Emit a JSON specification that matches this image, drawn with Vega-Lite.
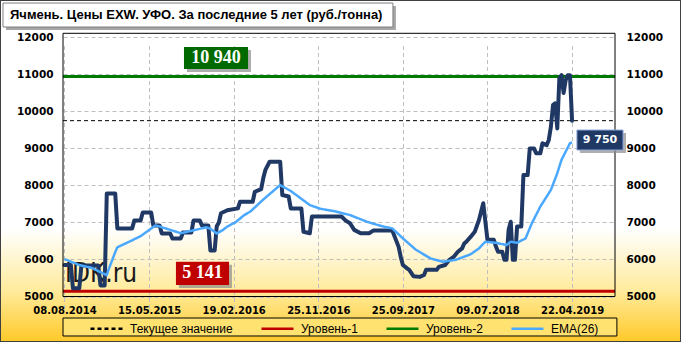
{
  "$schema": "https://vega.github.io/schema/vega-lite/v6.json",
  "width": 681,
  "height": 342,
  "autosize": "none",
  "padding": 0,
  "background": "#FFFFFF",
  "title": {
    "text": "Ячмень. Цены EXW. УФО. За последние 5 лет (руб./тонна)",
    "anchor": "start",
    "frame": "group",
    "offset": -32,
    "baseline": "alphabetic",
    "dx": 10,
    "font": "Liberation Sans",
    "fontSize": 13,
    "fontWeight": "bold",
    "color": "#000000"
  },
  "datasets": {
    "price": [
      {"i": 0, "v": 5850}, {"i": 3, "v": 5850}, {"i": 4, "v": 5220}, {"i": 7, "v": 5220},
      {"i": 8, "v": 5840}, {"i": 16, "v": 5840}, {"i": 17, "v": 5300}, {"i": 19, "v": 5300},
      {"i": 20, "v": 7780}, {"i": 24, "v": 7780}, {"i": 25, "v": 6840}, {"i": 32, "v": 6840},
      {"i": 33, "v": 7050}, {"i": 36, "v": 7050}, {"i": 37, "v": 7270}, {"i": 41, "v": 7270},
      {"i": 42, "v": 6920}, {"i": 45, "v": 6920}, {"i": 46, "v": 6700}, {"i": 50, "v": 6700},
      {"i": 51, "v": 6570}, {"i": 55, "v": 6570}, {"i": 56, "v": 6730}, {"i": 60, "v": 6730},
      {"i": 61, "v": 7050}, {"i": 64, "v": 7050}, {"i": 65, "v": 6920}, {"i": 68, "v": 6920},
      {"i": 69, "v": 6240}, {"i": 71, "v": 6240}, {"i": 72, "v": 6900}, {"i": 73, "v": 7000},
      {"i": 74, "v": 7250}, {"i": 77, "v": 7330}, {"i": 82, "v": 7380}, {"i": 83, "v": 7560},
      {"i": 89, "v": 7560}, {"i": 90, "v": 7830}, {"i": 93, "v": 7900}, {"i": 94, "v": 8200},
      {"i": 95, "v": 8420}, {"i": 97, "v": 8640}, {"i": 102, "v": 8640}, {"i": 103, "v": 7740},
      {"i": 106, "v": 7700}, {"i": 107, "v": 7380}, {"i": 112, "v": 7380}, {"i": 113, "v": 6750},
      {"i": 116, "v": 6710}, {"i": 117, "v": 7160}, {"i": 131, "v": 7160}, {"i": 133, "v": 7050},
      {"i": 135, "v": 6980}, {"i": 137, "v": 6800}, {"i": 140, "v": 6710}, {"i": 144, "v": 6710},
      {"i": 146, "v": 6780}, {"i": 155, "v": 6780}, {"i": 158, "v": 6340}, {"i": 159, "v": 6070},
      {"i": 160, "v": 5850}, {"i": 162, "v": 5760}, {"i": 163, "v": 5720}, {"i": 165, "v": 5550},
      {"i": 168, "v": 5530}, {"i": 170, "v": 5580}, {"i": 171, "v": 5720}, {"i": 176, "v": 5720},
      {"i": 177, "v": 5800}, {"i": 180, "v": 5850}, {"i": 182, "v": 5990}, {"i": 184, "v": 6070},
      {"i": 186, "v": 6210}, {"i": 188, "v": 6300}, {"i": 189, "v": 6430}, {"i": 190, "v": 6480},
      {"i": 192, "v": 6610}, {"i": 194, "v": 6750}, {"i": 196, "v": 7070}, {"i": 198, "v": 7520},
      {"i": 200, "v": 6530}, {"i": 203, "v": 6530}, {"i": 204, "v": 6350}, {"i": 205, "v": 6210},
      {"i": 207, "v": 6210}, {"i": 208, "v": 5990}, {"i": 209, "v": 5990}, {"i": 210, "v": 6800},
      {"i": 211, "v": 7020}, {"i": 212, "v": 5990}, {"i": 213, "v": 5990}, {"i": 214, "v": 6890},
      {"i": 216, "v": 6890}, {"i": 217, "v": 8280}, {"i": 219, "v": 8280}, {"i": 220, "v": 9000},
      {"i": 222, "v": 9000}, {"i": 223, "v": 8870}, {"i": 225, "v": 8870}, {"i": 226, "v": 9140},
      {"i": 228, "v": 9090}, {"i": 229, "v": 9230}, {"i": 230, "v": 9590}, {"i": 231, "v": 10170},
      {"i": 232, "v": 10220}, {"i": 233, "v": 9540}, {"i": 234, "v": 10900}, {"i": 235, "v": 10980},
      {"i": 236, "v": 10500}, {"i": 237, "v": 10850}, {"i": 238, "v": 10980}, {"i": 239, "v": 10980},
      {"i": 240, "v": 9750}
    ],
    "ema": [
      {"i": 0, "v": 6010}, {"i": 4, "v": 5920}, {"i": 7, "v": 5850}, {"i": 13, "v": 5770},
      {"i": 18, "v": 5630}, {"i": 20, "v": 5580}, {"i": 21, "v": 5750}, {"i": 22, "v": 5900},
      {"i": 24, "v": 6200}, {"i": 25, "v": 6330}, {"i": 31, "v": 6490}, {"i": 36, "v": 6630},
      {"i": 43, "v": 6920}, {"i": 45, "v": 6890}, {"i": 50, "v": 6800}, {"i": 55, "v": 6710},
      {"i": 58, "v": 6750}, {"i": 62, "v": 6800}, {"i": 67, "v": 6870}, {"i": 69, "v": 6830},
      {"i": 72, "v": 6700}, {"i": 75, "v": 6800}, {"i": 77, "v": 6890}, {"i": 81, "v": 7010},
      {"i": 85, "v": 7200}, {"i": 88, "v": 7300}, {"i": 94, "v": 7620}, {"i": 102, "v": 8010},
      {"i": 107, "v": 7850}, {"i": 116, "v": 7470}, {"i": 121, "v": 7370}, {"i": 128, "v": 7300},
      {"i": 135, "v": 7200}, {"i": 143, "v": 7020}, {"i": 150, "v": 6900}, {"i": 155, "v": 6840},
      {"i": 160, "v": 6570}, {"i": 166, "v": 6270}, {"i": 173, "v": 6030}, {"i": 179, "v": 5940},
      {"i": 185, "v": 5990}, {"i": 192, "v": 6140}, {"i": 196, "v": 6300}, {"i": 199, "v": 6480},
      {"i": 204, "v": 6450}, {"i": 209, "v": 6390}, {"i": 211, "v": 6480}, {"i": 214, "v": 6450},
      {"i": 218, "v": 6570}, {"i": 221, "v": 6980}, {"i": 225, "v": 7430}, {"i": 230, "v": 7880},
      {"i": 233, "v": 8330}, {"i": 235, "v": 8690}, {"i": 239, "v": 9140}, {"i": 240, "v": 9160}
    ],
    "levels": [
      {"series": "Текущее значение", "v": 9750},
      {"series": "Уровень-1", "v": 5141},
      {"series": "Уровень-2", "v": 10940}
    ],
    "one": [{}]
  },
  "resolve": {"axis": {"x": "independent", "y": "independent"}},
  "layer": [
    {
      "data": {"name": "one"},
      "mark": {"type": "rect", "fill": "#A6A6A6"},
      "encoding": {
        "x": {"datum": -27.65, "type": "quantitative", "axis": null},
        "x2": {"datum": 156.7},
        "y": {"datum": 12847, "type": "quantitative", "axis": null},
        "y2": {"datum": 12199}
      }
    },
    {
      "data": {"name": "one"},
      "mark": {"type": "rect", "fill": "#FFFFFF", "stroke": "#7F7F7F", "strokeWidth": 1},
      "encoding": {
        "x": {"datum": -29.07, "type": "quantitative", "axis": null},
        "x2": {"datum": 155.3},
        "y": {"datum": 12928, "type": "quantitative", "axis": null},
        "y2": {"datum": 12280}
      }
    },
    {
      "data": {"name": "one"},
      "mark": {"type": "rect", "fill": "#FFE270", "stroke": "#000000", "strokeWidth": 1},
      "encoding": {
        "x": {"datum": -0.7, "type": "quantitative", "axis": null},
        "x2": {"datum": 261.2},
        "y": {"datum": 4419, "type": "quantitative", "axis": null},
        "y2": {"datum": 3933}
      }
    },
    {
      "data": {"name": "one"},
      "mark": {"type": "text", "text": "IDK.ru", "align": "left", "baseline": "alphabetic", "font": "Liberation Sans Narrow, DejaVu Sans Condensed, sans-serif", "fontSize": 26, "color": "#1A1A1A"},
      "encoding": {
        "x": {"datum": 0.25, "type": "quantitative", "axis": null},
        "y": {"datum": 5392, "type": "quantitative", "axis": null}
      }
    },
    {
      "data": {"name": "levels"},
      "transform": [{"filter": "datum.series !== 'Текущее значение'"}],
      "mark": {"type": "rule", "strokeWidth": 3},
      "encoding": {
        "x": {"datum": -0.7, "type": "quantitative", "axis": null},
        "x2": {"datum": 260.3},
        "y": {"field": "v", "type": "quantitative", "axis": null},
        "color": {"field": "series", "type": "nominal", "legend": {"title": null}},
        "strokeDash": {"field": "series", "type": "nominal", "legend": {"title": null}}
      }
    },
    {
      "data": {"name": "levels"},
      "transform": [{"filter": "datum.series === 'Текущее значение'"}],
      "mark": {"type": "rule", "strokeWidth": 1},
      "encoding": {
        "x": {"datum": -0.7, "type": "quantitative", "axis": null},
        "x2": {"datum": 259.3},
        "y": {"field": "v", "type": "quantitative", "axis": null},
        "color": {"field": "series", "type": "nominal", "legend": {"title": null}},
        "strokeDash": {"field": "series", "type": "nominal", "legend": {"title": null}}
      }
    },
    {
      "data": {"name": "price"},
      "mark": {"type": "line", "color": "#203864", "strokeWidth": 4, "strokeJoin": "round", "strokeCap": "round"},
      "encoding": {
        "x": {
          "field": "i", "type": "quantitative",
          "scale": {"domain": [-0.7, 260.3], "range": [63, 615], "nice": false, "zero": false},
          "axis": {
            "values": [0, 40, 80, 120, 160, 200, 240],
            "labelExpr": "datum.value == 0 ? '08.08.2014' : datum.value == 40 ? '15.05.2015' : datum.value == 80 ? '19.02.2016' : datum.value == 120 ? '25.11.2016' : datum.value == 160 ? '25.09.2017' : datum.value == 200 ? '09.07.2018' : '22.04.2019'",
            "offset": -45.5,
            "labelPadding": 9,
            "labelFontSize": 10,
            "grid": true
          }
        },
        "y": {
          "field": "v", "type": "quantitative",
          "scale": {"domain": [5000, 12110], "range": [296.5, 33.3], "nice": false, "zero": false},
          "axis": {
            "orient": "left",
            "offset": -63,
            "values": [5000, 6000, 7000, 8000, 9000, 10000, 11000, 12000],
            "format": "d",
            "labelPadding": 10,
            "labelFontSize": 10.5,
            "grid": true
          }
        }
      }
    },
    {
      "data": {"name": "ema"},
      "mark": {"type": "line", "strokeWidth": 2.5, "strokeJoin": "round"},
      "encoding": {
        "x": {"field": "i", "type": "quantitative", "axis": null},
        "y": {
          "field": "v", "type": "quantitative",
          "axis": {
            "orient": "right",
            "offset": -66,
            "values": [5000, 6000, 7000, 8000, 9000, 10000, 11000, 12000],
            "format": "d",
            "labelPadding": 11,
            "labelFontSize": 10.5,
            "grid": false
          }
        },
        "color": {
          "datum": "EMA(26)", "type": "nominal",
          "scale": {"domain": ["Текущее значение", "Уровень-1", "Уровень-2", "EMA(26)"], "range": ["#000000", "#C00000", "#007A00", "#4AA8FF"]},
          "legend": {"title": null}
        },
        "strokeDash": {
          "datum": "EMA(26)", "type": "nominal",
          "scale": {"domain": ["Текущее значение", "Уровень-1", "Уровень-2", "EMA(26)"], "range": [[4, 3], [1, 0], [1, 0], [1, 0]]},
          "legend": {"title": null}
        }
      }
    },
    {
      "data": {"name": "one"},
      "mark": {"type": "rect", "fill": "transparent", "stroke": "#000000", "strokeWidth": 1},
      "encoding": {
        "x": {"datum": -0.7, "type": "quantitative", "axis": null},
        "x2": {"datum": 260.3},
        "y": {"datum": 5000, "type": "quantitative", "axis": null},
        "y2": {"datum": 12110}
      }
    },
    {
      "data": {"name": "one"},
      "mark": {"type": "rect", "fill": "#8C8C8C", "opacity": 0.7},
      "encoding": {
        "x": {"datum": 57.9, "type": "quantitative", "axis": null},
        "x2": {"datum": 88.2},
        "y": {"datum": 11658, "type": "quantitative", "axis": null},
        "y2": {"datum": 11064}
      }
    },
    {
      "data": {"name": "one"},
      "mark": {"type": "rect", "fill": "#006A00"},
      "encoding": {
        "x": {"datum": 56.5, "type": "quantitative", "axis": null},
        "x2": {"datum": 86.8},
        "y": {"datum": 11739, "type": "quantitative", "axis": null},
        "y2": {"datum": 11145}
      }
    },
    {
      "data": {"name": "one"},
      "mark": {"type": "rect", "fill": "#8C8C8C", "opacity": 0.7},
      "encoding": {
        "x": {"datum": 54.1, "type": "quantitative", "axis": null},
        "x2": {"datum": 79.2},
        "y": {"datum": 5859, "type": "quantitative", "axis": null},
        "y2": {"datum": 5230}
      }
    },
    {
      "data": {"name": "one"},
      "mark": {"type": "rect", "fill": "#C00000"},
      "encoding": {
        "x": {"datum": 52.7, "type": "quantitative", "axis": null},
        "x2": {"datum": 77.8},
        "y": {"datum": 5940, "type": "quantitative", "axis": null},
        "y2": {"datum": 5311}
      }
    },
    {
      "data": {"name": "one"},
      "mark": {"type": "rect", "fill": "#8C8C8C", "opacity": 0.7},
      "encoding": {
        "x": {"datum": 243.7, "type": "quantitative", "axis": null},
        "x2": {"datum": 265.5},
        "y": {"datum": 9416, "type": "quantitative", "axis": null},
        "y2": {"datum": 8876}
      }
    },
    {
      "data": {"name": "one"},
      "mark": {"type": "rect", "fill": "#1F3864", "stroke": "#8EA9DB", "strokeWidth": 1},
      "encoding": {
        "x": {"datum": 242.3, "type": "quantitative", "axis": null},
        "x2": {"datum": 264.1},
        "y": {"datum": 9497, "type": "quantitative", "axis": null},
        "y2": {"datum": 8957}
      }
    },
    {
      "data": {"name": "levels"},
      "transform": [{"filter": "datum.series === 'Уровень-2'"}],
      "mark": {"type": "text", "align": "center", "baseline": "middle", "dy": -18.6, "font": "Liberation Serif", "fontWeight": "bold", "fontSize": 18, "color": "#FFFFFF"},
      "encoding": {
        "x": {"datum": 71.64, "type": "quantitative", "axis": null},
        "y": {"field": "v", "type": "quantitative", "axis": null},
        "text": {"field": "v", "type": "quantitative", "format": ",d"}
      }
    },
    {
      "data": {"name": "levels"},
      "transform": [{"filter": "datum.series === 'Уровень-1'"}],
      "mark": {"type": "text", "align": "center", "baseline": "middle", "dy": -17.9, "font": "Liberation Serif", "fontWeight": "bold", "fontSize": 18, "color": "#FFFFFF"},
      "encoding": {
        "x": {"datum": 65.26, "type": "quantitative", "axis": null},
        "y": {"field": "v", "type": "quantitative", "axis": null},
        "text": {"field": "v", "type": "quantitative", "format": ",d"}
      }
    },
    {
      "data": {"name": "levels"},
      "transform": [{"filter": "datum.series === 'Текущее значение'"}],
      "mark": {"type": "text", "align": "center", "baseline": "middle", "dy": 19.4, "font": "DejaVu Sans", "fontWeight": "bold", "fontSize": 11, "color": "#FFFFFF"},
      "encoding": {
        "x": {"datum": 253.2, "type": "quantitative", "axis": null},
        "y": {"field": "v", "type": "quantitative", "axis": null},
        "text": {"field": "v", "type": "quantitative", "format": ",d"}
      }
    }
  ],
  "config": {
    "locale": {
      "number": {"decimal": ",", "thousands": " ", "grouping": [3], "currency": ["", " руб."]}
    },
    "view": {
      "fill": {
        "gradient": "linear", "x1": 0, "y1": 0, "x2": 0, "y2": 1,
        "stops": [
          {"offset": 0, "color": "#FFFFFF"},
          {"offset": 0.67, "color": "#FFFFFF"},
          {"offset": 0.85, "color": "#FFEB9C"},
          {"offset": 1, "color": "#FFC928"}
        ]
      },
      "stroke": "#404040",
      "strokeWidth": 2
    },
    "axis": {
      "title": null,
      "domain": false,
      "ticks": false,
      "tickSize": 0,
      "labelFlush": false,
      "labelOverlap": false,
      "labelFont": "DejaVu Sans",
      "labelFontWeight": "bold",
      "labelColor": "#000000",
      "gridColor": "#BFBFBF",
      "gridDash": [4, 3],
      "gridWidth": 1
    },
    "legend": {
      "orient": "none",
      "legendX": 89,
      "legendY": 311,
      "direction": "horizontal",
      "padding": 0,
      "symbolType": "stroke",
      "symbolSize": 1024,
      "symbolStrokeWidth": 2.5,
      "labelFont": "Liberation Sans",
      "labelFontSize": 12,
      "labelColor": "#000000",
      "labelOffset": 6,
      "columnPadding": 23
    }
  }
}
